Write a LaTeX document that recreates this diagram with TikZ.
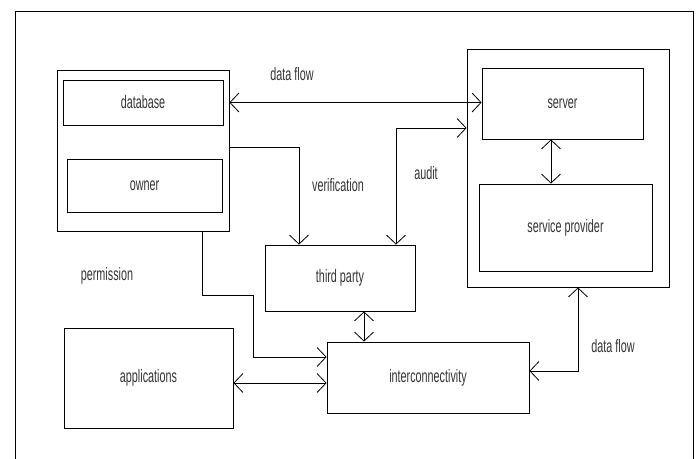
\documentclass[tikz,border=0pt]{standalone}
\usepackage{fontspec}
\setmainfont{Liberation Sans}[FakeStretch=0.6]
\usetikzlibrary{arrows.meta, calc, positioning}

\begin{document}
\begin{tikzpicture}[x=1pt, y=-1pt, >={Straight Barb[length=9pt,width=19pt]}, line width=0.8pt, inner sep=0pt, font=\fontsize{18}{21}\selectfont, text=black!80]
\useasboundingbox (0,0) rectangle (699,458);
\draw (15,460) |- (693,11) -- (693,460);

\node[draw, minimum width=172pt, minimum height=161pt] (dataowner) at (143,150.5) {};
\node[draw, minimum width=160pt, minimum height=45pt] (database) at (143,102.5) {database};
\node[draw, minimum width=155pt, minimum height=53pt] (owner) at (144.5,185.5) {owner};
\node[draw, minimum width=202pt, minimum height=238pt] (cloud) at (568,168) {};
\node[draw, minimum width=161pt, minimum height=71pt] (server) at (562.5,103.5) {server};
\node[draw, minimum width=173pt, minimum height=87pt] (provider) at (565.5,227.5) {service provider};
\node[draw, minimum width=150pt, minimum height=66pt] (thirdparty) at (340,278) {third party};
\node[draw, minimum width=202pt, minimum height=71pt] (interconn) at (428,377.5) {interconnectivity};
\node[draw, minimum width=169pt, minimum height=100pt] (apps) at (148.5,378) {applications};

\coordinate (permbend) at (253,295);

\draw[<->] (dataowner.east |- database) -- (server.west |- database);
\draw[->] ([yshift=3.5pt]dataowner.east) -| ([xshift=-41pt]thirdparty.north);
\draw[<->] ([xshift=56pt]thirdparty.north) |- ([yshift=40pt]cloud.west);
\draw[<->] ([xshift=-11.5pt]server.south) -- ([xshift=-11.5pt]server.south |- provider.north);
\draw[->] ([xshift=59pt]dataowner.south) |- (permbend) |- ([yshift=20.5pt]interconn.west);
\draw[<->] ([yshift=-5pt]apps.east) -- ([yshift=-5pt]apps.east -| interconn.west);
\draw[<->] ([xshift=24pt]thirdparty.south) -- ([xshift=24pt]thirdparty.south |- interconn.north);
\draw[<->] ([yshift=6.5pt]interconn.east) -| ([xshift=10pt]cloud.south);

\node (flowtop) at (292,74) {data flow};
\node (verification) at (338,185) {verification};
\node (audit) at (426,173) {audit};
\node (permission) at (107,276) {permission};
\node (flowbottom) at (613,346) {data flow};
\end{tikzpicture}
\end{document}
